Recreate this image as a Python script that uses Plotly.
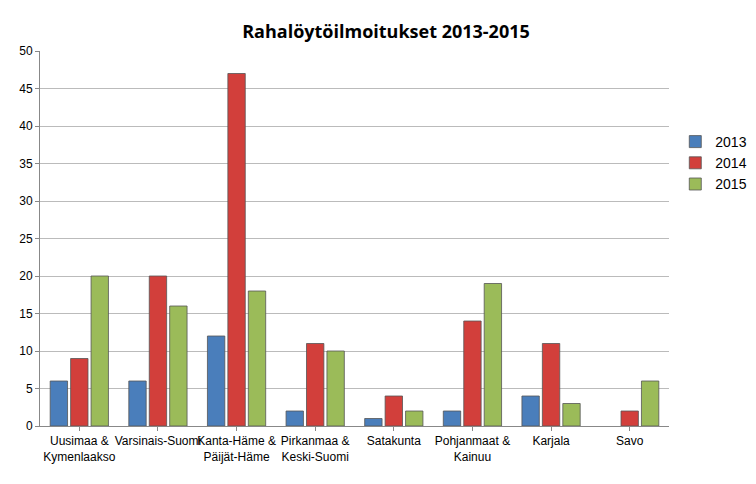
import plotly.graph_objects as go

categories = ["Uusimaa &<br>Kymenlaakso", "Varsinais-Suomi", "Kanta-Häme &<br>Päijät-Häme",
              "Pirkanmaa &<br>Keski-Suomi", "Satakunta", "Pohjanmaat &<br>Kainuu", "Karjala", "Savo"]
v2013 = [6, 6, 12, 2, 1, 2, 4, None]
v2014 = [9, 20, 47, 11, 4, 14, 11, 2]
v2015 = [20, 16, 18, 10, 2, 19, 3, 6]
series = [("2013", v2013, "#4A7EBB"), ("2014", v2014, "#D23F3B"), ("2015", v2015, "#9BBB59")]

fig = go.Figure()
for name, vals, col in series:
    fig.add_trace(go.Bar(name=name, x=categories, y=vals, marker=dict(color=col, line=dict(color="#555", width=0.8))))

fig.update_layout(
    width=756, height=484, paper_bgcolor="white", plot_bgcolor="white",
    font=dict(family="Liberation Sans, Arial", size=12, color="black"),
    title=dict(text="<b>Rahalöytöilmoitukset 2013-2015</b>", x=0.5, y=0.965, xanchor="center",
               font=dict(size=18, family="Open Sans")),
    margin=dict(l=32, r=86, t=43, b=66),
    barmode="group", bargap=0.22, bargroupgap=0.15,
    legend=dict(x=1.01, y=0.8, xanchor="left", yanchor="top", font=dict(size=14), tracegroupgap=8),
    yaxis=dict(range=[0, 50], dtick=5, showgrid=True, gridcolor="#BBBBBB", ticks="outside",
               ticklen=4, tickcolor="#888", showline=True, linecolor="#888", zeroline=False,
               tickfont=dict(size=12)),
    xaxis=dict(showline=True, linecolor="#888", ticks="outside", tickcolor="#888", ticklen=4,
               tickangle=0, tickfont=dict(size=12), automargin=False),
)
fig.write_html("out.html")
